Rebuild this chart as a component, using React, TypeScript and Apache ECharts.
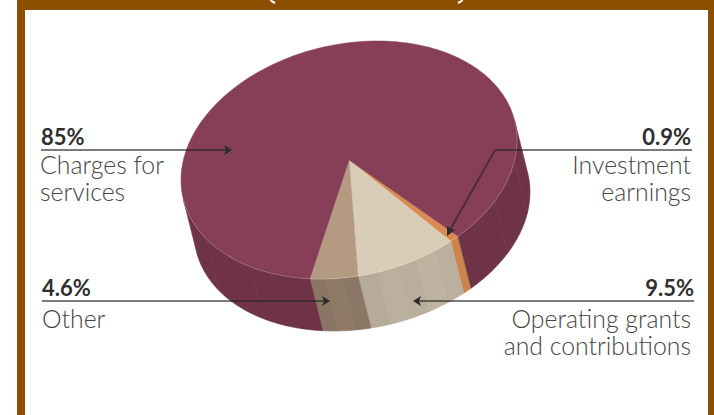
import React, { useEffect, useRef } from "react";
import * as echarts from "echarts";

const categories = ["Investment earnings", "Operating grants and contributions", "Other", "Charges for services"];
const shares = [0.9, 9.5, 4.6, 85];
const topColors = ["#d98c52", "#dacdb7", "#b39a81", "#863f56"];
const wallColors = ["#c9844b", "#b8ae9b", "#8f7a68", "#6f3346"];
const facetWidths = [4, 7, 6, 24];

// Projected disc: top face centre, semi-axes of the skewed ellipse and extrusion offset
const CX = 349;
const CY = 160;
const AX = 168;
const SK = -20;
const AY = 117.3;
const DX = 13;
const DY = 52;
const START_DEG = 49.5;
const WALL_FROM = -9.6;
const WALL_TO = 170.4;

const FONT = "Lato";

function rim(deg: number, ox = 0, oy = 0): number[] {
  const t = (deg * Math.PI) / 180;
  return [CX + ox + AX * Math.cos(t), CY + oy + SK * Math.cos(t) + AY * Math.sin(t)];
}

function arcPts(a: number, b: number, ox = 0, oy = 0): number[][] {
  const out: number[][] = [];
  const n = Math.max(2, Math.ceil(Math.abs(b - a) / 1.5));
  for (let i = 0; i <= n; i++) out.push(rim(a + ((b - a) * i) / n, ox, oy));
  return out;
}

function sliceRange(idx: number): [number, number] {
  let a = START_DEG;
  for (let i = 0; i < idx; i++) a += (shares[i] / 100) * 360;
  return [a, a + (shares[idx] / 100) * 360];
}

function shade(hex: string, k: number): string {
  const n = parseInt(hex.slice(1), 16);
  const f = (v: number) => Math.max(0, Math.min(255, Math.round(v * k)));
  return `rgb(${f((n >> 16) & 255)},${f((n >> 8) & 255)},${f(n & 255)})`;
}

function wallItem(_: any, api: any) {
  const idx = api.value(0) as number;
  const children: any[] = [];
  const [a, b] = sliceRange(idx);
  // Visible part of the slice on the front of the disc (the range also repeats one turn later)
  for (const turn of [0, 360]) {
    const from = Math.max(a, WALL_FROM + turn);
    const to = Math.min(b, WALL_TO + turn);
    if (to <= from) continue;
    const steps = Math.max(1, Math.ceil((to - from) / facetWidths[idx]));
    for (let i = 0; i < steps; i++) {
      const s = from + ((to - from) * i) / steps;
      const e = from + ((to - from) * (i + 1)) / steps;
      const strength = idx === 3 ? 0.004 : 0.02;
      const k = 1 + strength * Math.cos(((s - turn - 55) * Math.PI) / 40) + (i % 2 ? strength / 2 : -strength / 2);
      const color = shade(wallColors[idx], k);
      const pts = arcPts(s, e).concat(arcPts(e, s, DX, DY));
      children.push({ type: "polygon", shape: { points: pts }, style: { fill: color, stroke: color, lineWidth: 0.6 } });
    }
  }
  return { type: "group", children };
}

function topItem(_: any, api: any) {
  const idx = api.value(0) as number;
  const [a, b] = sliceRange(idx);
  const pts = [[CX, CY]].concat(arcPts(a, b));
  return {
    type: "polygon",
    shape: { points: pts },
    style: { fill: topColors[idx], stroke: topColors[idx], lineWidth: 0.5 },
  };
}

function rimItem() {
  return {
    type: "polyline",
    shape: { points: arcPts(WALL_FROM, WALL_TO) },
    style: { fill: "none", stroke: "rgba(255,255,255,0.25)", lineWidth: 0.8 },
  };
}

const LEADER = "rgba(35,35,35,0.6)";

// y is the text baseline; the renderer places text by its centre line
function label(x: number, y: number, text: string, align: string, bold = false) {
  const size = bold ? 22 : 24.8;
  return {
    type: "text",
    x,
    y: y - size * 0.33,
    silent: true,
    z: 20,
    style: {
      text,
      x: 0,
      y: 0,
      align,
      verticalAlign: "middle",
      fill: bold ? "#2f2f2f" : "#454545",
      font: `${bold ? 700 : 300} ${size}px ${FONT}`,
    },
  };
}

function leader(points: number[][]) {
  return { type: "polyline", z: 15, shape: { points }, style: { fill: "none", stroke: LEADER, lineWidth: 2 } };
}

function head(points: number[][]) {
  return { type: "polygon", z: 16, shape: { points }, style: { fill: "#2b2b2b" } };
}

// Small white strokes on the top band
function bandMark(points: number[][]) {
  return { type: "polyline", z: 11, shape: { points }, style: { fill: "none", stroke: "#ffffff", lineWidth: 2 } };
}

export default function App() {
  const ref = useRef<HTMLDivElement>(null);
  useEffect(() => {
    document.body.style.margin = "0";
    const chart = echarts.init(ref.current!, null, { renderer: "svg" });
    const rows = shares.map((v, i) => ({ name: categories[i], value: [i, v] }));
    chart.setOption({
      animation: false,
      backgroundColor: "#ffffff",
      series: [
        { type: "custom", coordinateSystem: "none", data: rows, renderItem: wallItem, z: 2, silent: true },
        { type: "custom", coordinateSystem: "none", data: rows, renderItem: topItem, z: 3, silent: true },
        { type: "custom", coordinateSystem: "none", data: [[0]], renderItem: rimItem, z: 4, silent: true },
      ],
      graphic: [
        { type: "rect", z: 10, shape: { x: 17, y: 0, width: 697, height: 10 }, style: { fill: "#8c4f00" } },
        { type: "rect", z: 10, shape: { x: 17, y: 0, width: 8, height: 415 }, style: { fill: "#8c4f00" } },
        { type: "rect", z: 10, shape: { x: 708, y: 0, width: 6, height: 415 }, style: { fill: "#8c4f00" } },
        bandMark([[270, -1], [272, 1.5], [275, 3]]),
        bandMark([[463, -1], [461, 1.5], [458, 3]]),

        leader([[41, 150], [226, 150]]),
        head([[232, 150], [224, 145], [226, 150], [224, 155]]),
        label(41, 144, "85%", "left", true),
        label(40, 173, "Charges for", "left"),
        label(40, 200, "services", "left"),

        leader([[692, 150], [495, 150], [450, 230]]),
        head([[447, 236], [447, 226], [451, 229], [455, 230]]),
        label(691, 144, "0.9%", "right", true),
        label(691, 173, "Investment", "right"),
        label(691, 200, "earnings", "right"),

        leader([[694, 301], [419, 301]]),
        head([[413, 301], [421, 296], [419, 301], [421, 306]]),
        label(694, 295, "9.5%", "right", true),
        label(691, 327, "Operating grants", "right"),
        label(691, 354, "and contributions", "right"),

        leader([[42, 301], [324, 301]]),
        head([[330, 301], [322, 296], [324, 301], [322, 306]]),
        label(42, 295, "4.6%", "left", true),
        label(42, 327, "Other", "left"),
      ],
    });
    return () => chart.dispose();
  }, []);
  return <div ref={ref} style={{ width: 714, height: 415, position: "absolute", left: 0, top: 0 }} />;
}
